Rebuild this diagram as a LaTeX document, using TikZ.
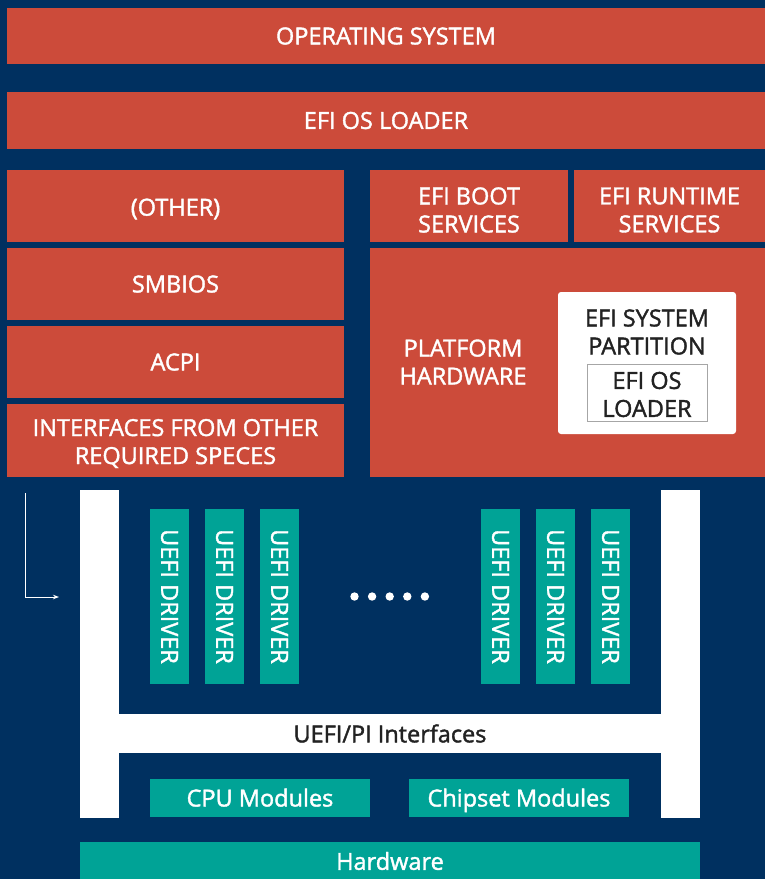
\documentclass[tikz,border=0pt]{standalone}
\usepackage{fontspec}
\setmainfont{Open Sans}[FakeBold=1.6]
\usepackage{tikz}
\usetikzlibrary{positioning, arrows.meta}

\definecolor{efinavy}{HTML}{003060}
\definecolor{efired}{HTML}{CC4B3A}
\definecolor{efiteal}{HTML}{00A396}
\definecolor{efiink}{HTML}{222222}

\begin{document}
\begin{tikzpicture}[x=1pt, y=-1pt, node distance=55pt, on grid,
    every node/.style={inner sep=0pt, align=center, font=\fontsize{23.5}{28}\selectfont},
    layer/.style={fill=efired, text=white},
    driver/.style={fill=efiteal, text=white, rotate=-90, minimum width=175pt, minimum height=39pt},
    module/.style={fill=efiteal, text=white, text height=17pt, text depth=0pt, minimum width=220pt, minimum height=38pt}]

                % BACKGROUND
                \fill[efinavy] (0,0) rectangle (765,879);
                \useasboundingbox (0,0) rectangle (765,879);

                % TOP LAYERS
                \node[layer, minimum width=758pt, minimum height=56pt] (os) at (386,36) {OPERATING SYSTEM};
                \node[layer, minimum width=758pt, minimum height=57pt] (loader) at (386,120.5) {EFI OS LOADER};

                % LEFT COLUMN
                \node[layer, minimum width=337pt, minimum height=72pt] (other) at (175.5,206) {};
                \node[text=white] (othertext) at (175.5,209) {(OTHER)};
                \node[layer, minimum width=337pt, minimum height=72pt] (smbios) at (175.5,284) {SMBIOS};
                \node[layer, minimum width=337pt, minimum height=72pt] (acpi) at (175.5,362) {ACPI};
                \node[layer, minimum width=337pt, minimum height=73pt] (ifaces) at (175.5,440.5) {};
                \node[text=white] (ifacestext) at (175.5,443.5) {INTERFACES FROM OTHER\\REQUIRED SPECES};

                % RIGHT COLUMN
                \node[layer, minimum width=198pt, minimum height=72pt] (boot) at (469,206) {};
                \node[text=white] (boottext) at (469,210) {EFI BOOT\\SERVICES};
                \node[layer, minimum width=191pt, minimum height=72pt] (runtime) at (669.5,206) {};
                \node[text=white] (runtimetext) at (669.5,210) {EFI RUNTIME\\SERVICES};
                \node[layer, minimum width=395pt, minimum height=229pt] (platform) at (567.5,362.5) {};
                \node[text=white] (platformtext) at (463,362) {PLATFORM\\HARDWARE};

                % SYSTEM PARTITION
                \node[fill=white, rounded corners=3pt, minimum width=178pt, minimum height=142pt] (esp) at (647,363) {};
                \node[text=efiink] (esptext) at (647,332) {EFI SYSTEM\\PARTITION};
                \node[draw=gray!70, line width=1pt, minimum width=120pt, minimum height=57pt] (esploader) at (647,392.5) {};
                \node[text=efiink] (esploadertext) at (647,394.5) {EFI OS\\LOADER};

                % UEFI/PI INTERFACES
                \fill[white] (80,490) rectangle (119,818);
                \fill[white] (661,490) rectangle (700,818);
                \node[fill=white, text=efiink, minimum width=542pt, minimum height=39pt] (pi) at (390,733.5) {UEFI/PI Interfaces};

                % DRIVERS
                \node[driver] (drv1) at (169.5,596.5) {UEFI DRIVER};
                \node[driver] (drv2) [right=of drv1] {UEFI DRIVER};
                \node[driver] (drv3) [right=of drv2] {UEFI DRIVER};
                \foreach \i in {0,...,4}
                    \fill[white] (354.5+17.6*\i,596.5) circle (4.2pt);
                \node[driver] (drv4) at (500.5,596.5) {UEFI DRIVER};
                \node[driver] (drv5) [right=of drv4] {UEFI DRIVER};
                \node[driver] (drv6) [right=of drv5] {UEFI DRIVER};

                % MODULES
                \node[module] (cpu) at (260,798) {CPU Modules};
                \node[module] (chipset) at (519,798) {Chipset Modules};
                \node[fill=efiteal, text=white, minimum width=620pt, minimum height=38pt] (hw) at (390,861) {Hardware};

                % ARROW
                \coordinate (arrowtop) at (25,493);
                \coordinate (arrowend) at (59,597);
                \draw[white, line width=1pt, -{Stealth[length=6pt]}] (arrowtop) |- (arrowend);

            \end{tikzpicture}
\end{document}
